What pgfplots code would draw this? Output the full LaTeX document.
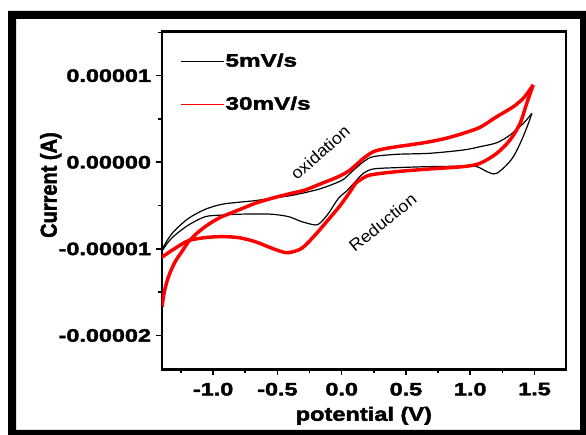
\documentclass[border=0pt]{standalone}
\usepackage{fontspec}
\usepackage{graphicx}
\usepackage{pgfplots}
\pgfplotsset{compat=1.18}
\setmainfont{Liberation Sans}
\newfontfamily\tickfont{Liberation Sans Bold}[FakeStretch=1.3,FakeBold=2.2]
\newfontfamily\legfont{Liberation Sans Bold}[FakeStretch=1.35,FakeBold=2.2]
\newfontfamily\labfont{Liberation Sans Bold}[FakeStretch=1.22,FakeBold=2.2]
\newfontfamily\ylabfont{Liberation Sans Bold}[FakeBold=2.2]
\newfontfamily\annfont{Liberation Sans}[FakeStretch=1.08]

\pgfplotstableread{
V I
-1.397 -1.667e-5
-1.38 -1.50e-5
-1.347 -1.32e-5
-1.295 -1.148e-5
-1.243 -1.032e-5
-1.191 -0.917e-5
-1.126 -0.82e-5
-1.061 -0.743e-5
-0.997 -0.68e-5
-0.932 -0.628e-5
-0.802 -0.551e-5
-0.673 -0.474e-5
-0.543 -0.416e-5
-0.413 -0.366e-5
-0.284 -0.32e-5
-0.154 -0.243e-5
-0.025 -0.166e-5
0.066 -0.089e-5
0.17 0.046e-5
0.247 0.122e-5
0.33 0.155e-5
0.429 0.18e-5
0.55 0.205e-5
0.688 0.238e-5
0.82 0.28e-5
0.947 0.335e-5
1.077 0.404e-5
1.207 0.527e-5
1.336 0.642e-5
1.42 0.75e-5
1.49 0.893e-5
}\redfwd

\pgfplotstableread{
V I
1.49 0.893e-5
1.44 0.681e-5
1.388 0.45e-5
1.31 0.258e-5
1.207 0.104e-5
1.077 -0.012e-5
0.947 -0.05e-5
0.688 -0.077e-5
0.429 -0.108e-5
0.222 -0.147e-5
0.144 -0.204e-5
0.105 -0.25e-5
0.066 -0.339e-5
-0.012 -0.50e-5
-0.102 -0.66e-5
-0.206 -0.839e-5
-0.31 -0.993e-5
-0.413 -1.044e-5
-0.47 -1.03e-5
-0.543 -0.993e-5
-0.673 -0.917e-5
-0.802 -0.87e-5
-0.932 -0.859e-5
-1.061 -0.87e-5
-1.191 -0.905e-5
-1.295 -0.993e-5
-1.40 -1.097e-5
}\redrev

\pgfplotstableread{
V I
-1.40 -1.013e-5
-1.347 -0.878e-5
-1.295 -0.782e-5
-1.191 -0.647e-5
-1.061 -0.543e-5
-0.932 -0.485e-5
-0.802 -0.462e-5
-0.673 -0.443e-5
-0.543 -0.415e-5
-0.413 -0.389e-5
-0.284 -0.35e-5
-0.154 -0.30e-5
0.0 -0.21e-5
0.066 -0.127e-5
0.17 0.007e-5
0.247 0.065e-5
0.429 0.092e-5
0.688 0.104e-5
0.947 0.142e-5
1.077 0.18e-5
1.207 0.226e-5
1.31 0.315e-5
1.414 0.45e-5
1.48 0.566e-5
}\blkfwd

\pgfplotstableread{
V I
1.48 0.566e-5
1.453 0.45e-5
1.401 0.258e-5
1.336 0.065e-5
1.271 -0.05e-5
1.207 -0.127e-5
1.18 -0.135e-5
1.13 -0.108e-5
1.05 -0.05e-5
0.947 -0.046e-5
0.688 -0.05e-5
0.429 -0.062e-5
0.247 -0.077e-5
0.17 -0.127e-5
0.118 -0.204e-5
0.04 -0.33e-5
-0.025 -0.416e-5
-0.102 -0.589e-5
-0.167 -0.70e-5
-0.206 -0.724e-5
-0.31 -0.686e-5
-0.413 -0.628e-5
-0.543 -0.60e-5
-0.673 -0.597e-5
-0.802 -0.60e-5
-0.932 -0.61e-5
-1.061 -0.628e-5
-1.191 -0.724e-5
-1.295 -0.839e-5
-1.347 -0.917e-5
-1.40 -1.03e-5
}\blkrev

\begin{document}
\begin{tikzpicture}
\useasboundingbox (0,0) rectangle (439.5pt,326.25pt);
\fill[white] (0,0) rectangle (439.5pt,326.25pt);
\fill[black, even odd rule] (6pt,0pt) rectangle (439.5pt,318pt) (12pt,3.75pt) rectangle (435pt,312pt);
\begin{axis}[
  at={(121.28pt,49.13pt)}, anchor=south west,
  scale only axis, width=303.2pt, height=253.35pt,
  xmin=-1.4, xmax=1.745, ymin=-2.393e-5, ymax=1.508e-5,
  xtick={-1,-0.5,0,0.5,1,1.5},
  xticklabels={-1.0,-0.5,0.0,0.5,1.0,1.5},
  ytick={-2e-5,-1e-5,0,1e-5},
  yticklabels={-0.00002,-0.00001,0.00000,0.00001},
  minor xtick={-1.25,-0.75,-0.25,0.25,0.75,1.25},
  minor ytick={-1.5e-5,-0.5e-5,0.5e-5,1.5e-5},
  scaled ticks=false,
  tick align=outside, tick pos=left,
  major tick length=4.5pt, minor tick length=3pt,
  every tick/.style={black, line width=1.2pt},
  axis line style={line width=1.8pt},
  xticklabel style={font=\tickfont\fontsize{13.5}{13.5}\selectfont, yshift=-2pt},
  yticklabel style={font=\tickfont\fontsize{13.5}{13.5}\selectfont},
  xlabel={potential (V)},
  xlabel style={font=\labfont\fontsize{14.5}{15}\selectfont, at={(axis description cs:0.5,-0.137)}, anchor=center},
  ylabel={\scalebox{1}[1.15]{Current (A)}},
  ylabel style={font=\ylabfont\fontsize{15}{15}\selectfont, at={(axis description cs:-0.2745,0.546)}, anchor=center},
  legend style={draw=none, fill=none, at={(axis description cs:0.046,0.94)}, anchor=north west,
    font=\legfont\fontsize{13.5}{14}\selectfont, row sep=19pt, inner sep=0pt, nodes={inner sep=1pt}},
  legend cell align=left,
  legend image code/.code={\draw[#1, line width=0.7pt] (0pt,0pt) -- (32pt,0pt);},
  legend entries={5mV/s,30mV/s},
]
\addlegendimage{black}
\addlegendimage{red}
\addplot[black, line width=0.9pt, smooth, forget plot] table[x=V,y=I] {\blkfwd};
\addplot[black, line width=0.9pt, smooth, forget plot] table[x=V,y=I] {\blkrev};
\addplot[red, line width=2.6pt, smooth, forget plot] table[x=V,y=I] {\redfwd};
\addplot[red, line width=2.6pt, smooth, forget plot] table[x=V,y=I] {\redrev};
\node[font=\annfont\fontsize{12.5}{13}\selectfont, rotate=41, anchor=center] at (axis cs:-0.167,0.113e-5) {oxidation};
\node[font=\annfont\fontsize{12.5}{13}\selectfont, rotate=39, anchor=center] at (axis cs:0.319,-0.695e-5) {Reduction};
\end{axis}
\end{tikzpicture}
\end{document}
